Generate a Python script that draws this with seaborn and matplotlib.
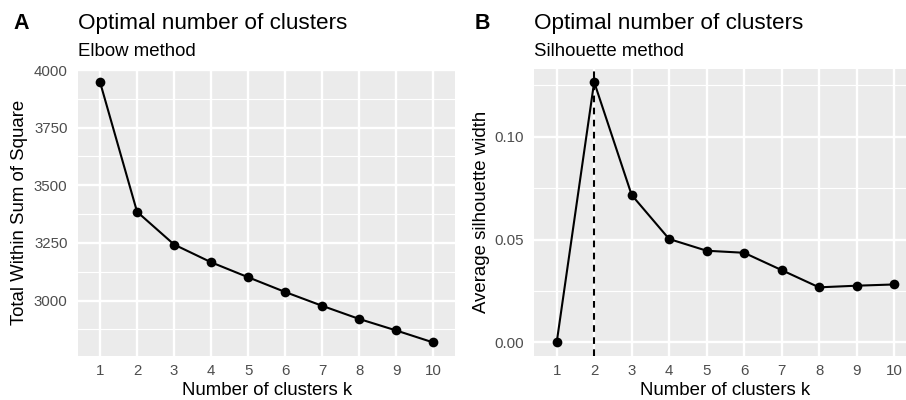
import numpy as np
import pandas as pd
import matplotlib
matplotlib.use("Agg")
import matplotlib.pyplot as plt
from matplotlib.ticker import FixedLocator
import seaborn as sns

# ---- data ----
k = [1, 2, 3, 4, 5, 6, 7, 8, 9, 10]
wss = [3948, 3385, 3243, 3166, 3101, 3037, 2977, 2920, 2870, 2818]
sil = [0.0, 0.1266, 0.0717, 0.0503, 0.0446, 0.0436, 0.0352, 0.0268, 0.0276, 0.0282]
wss_ticks = [3000, 3250, 3500, 3750, 4000]
wss_minor = [2875, 3125, 3375, 3625, 3875]
sil_ticks = [0.00, 0.05, 0.10]
sil_minor = [0.025, 0.075, 0.125]
sil_ticklabels = ["0.00", "0.05", "0.10"]

sns.set_theme(style="white")
plt.rcParams['font.family'] = ['Liberation Sans', 'DejaVu Sans']
plt.rcParams['text.color'] = 'black'
plt.rcParams['axes.labelcolor'] = 'black'

W, H = 906, 400
fig = plt.figure(figsize=(W / 100, H / 100), dpi=100)

PANEL_BG = "#EBEBEB"
TICK_COL = "#4D4D4D"
LW = 1.5

def px(x0, y0, x1, y1):
    return [x0 / W, 1 - y1 / H, (x1 - x0) / W, (y1 - y0) / H]

axA = fig.add_axes(px(77.8, 69, 455.5, 355.5))
axB = fig.add_axes(px(534.2, 69, 916.5, 355.5))

df = pd.DataFrame({"k": k, "wss": wss, "sil": sil})


def style(ax, yvals, yticks, yminor, yticklabels=None):
    ax.set_facecolor(PANEL_BG)
    for s in ax.spines.values():
        s.set_visible(False)
    lo, hi = min(yvals), max(yvals)
    pad = 0.05 * (hi - lo)
    ax.set_ylim(lo - pad, hi + pad)
    ax.set_xlim(0.4, 10.6)
    ax.set_xticks(k)
    ax.set_xticklabels([str(v) for v in k])
    ax.set_yticks(yticks)
    if yticklabels is not None:
        ax.set_yticklabels(yticklabels)
    ax.yaxis.set_minor_locator(FixedLocator(yminor))
    ax.grid(True, which="major", color="white", linewidth=1.7)
    ax.grid(True, which="minor", axis="y", color="white", linewidth=0.85)
    ax.grid(False, which="minor", axis="x")
    ax.set_axisbelow(True)
    ax.tick_params(axis="both", which="major", length=3.35, width=1.2,
                   color="#333333", labelcolor=TICK_COL, labelsize=10.8)
    ax.tick_params(axis="y", which="major", pad=4.0)
    ax.tick_params(axis="x", which="major", pad=2.6)
    ax.tick_params(which="minor", length=0)
    ax.set_xlabel("")
    ax.set_ylabel("")


sns.lineplot(data=df, x="k", y="wss", ax=axA, color="black", linewidth=LW,
             marker="o", markersize=7, markeredgewidth=0)
style(axA, wss, wss_ticks, wss_minor)

sns.lineplot(data=df, x="k", y="sil", ax=axB, color="black", linewidth=LW,
             marker="o", markersize=7, markeredgewidth=0)
best_k = k[int(np.argmax(sil))]
axB.axvline(best_k, color="black", linewidth=LW, linestyle=(0, (3.2, 2.6)), zorder=1.5)
style(axB, sil, sil_ticks, sil_minor, sil_ticklabels)

# ---- texts ----
def ftext(x, y, s, **kw):
    fig.text(x / W, 1 - y / H, s, color="black", **kw)

ftext(13, 29, "A", fontsize=15.5, fontweight="bold", va="baseline", ha="left")
ftext(474.5, 29, "B", fontsize=15.5, fontweight="bold", va="baseline", ha="left")

ftext(77.8, 29.5, "Optimal number of clusters", fontsize=16.2, va="baseline", ha="left")
ftext(77.8, 56.3, "Elbow method", fontsize=13.45, va="baseline", ha="left")
ftext(534.5, 29.5, "Optimal number of clusters", fontsize=16.2, va="baseline", ha="left")
ftext(534.5, 56.3, "Silhouette method", fontsize=13.45, va="baseline", ha="left")

ftext((77.8 + 455.5) / 2, 395, "Number of clusters k", fontsize=13.45, va="baseline", ha="center")
ftext((534.2 + 916.5) / 2, 395, "Number of clusters k", fontsize=13.45, va="baseline", ha="center")

ftext(20, 212.3, "Total Within Sum of Square", fontsize=13.45, rotation=90, va="center", ha="center")
ftext(481.3, 212.3, "Average silhouette width", fontsize=13.45, rotation=90, va="center", ha="center")

fig.savefig("out.png", dpi=100, facecolor="white")
